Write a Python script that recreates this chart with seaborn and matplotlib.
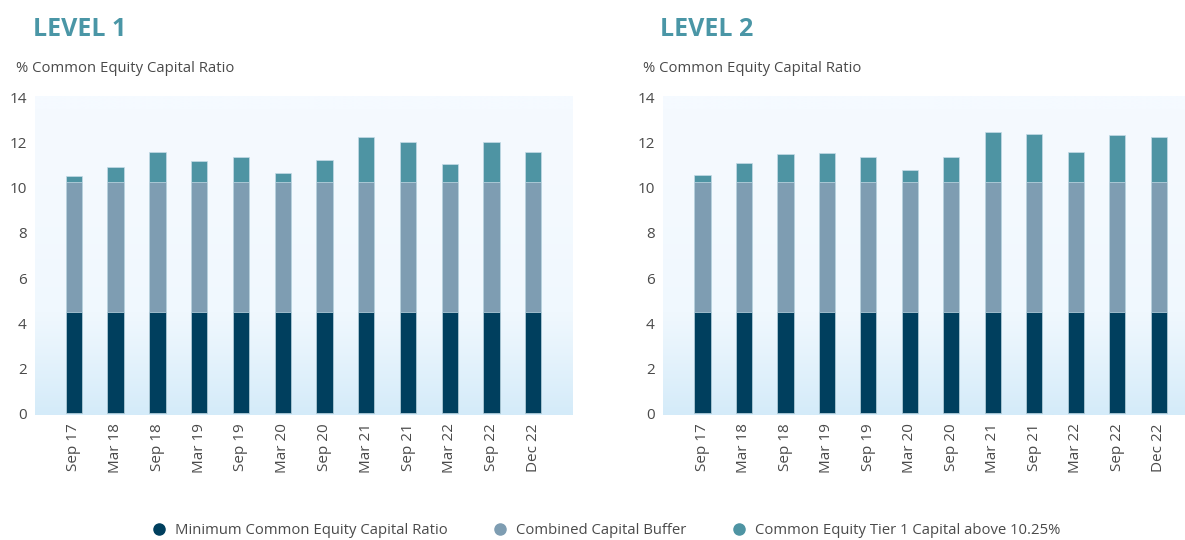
import numpy as np
import pandas as pd
import matplotlib
matplotlib.use("Agg")
import matplotlib.pyplot as plt
import seaborn as sns
from matplotlib.colors import LinearSegmentedColormap
from matplotlib.lines import Line2D

periods = ["Sep 17", "Mar 18", "Sep 18", "Mar 19", "Sep 19", "Mar 20",
           "Sep 20", "Mar 21", "Sep 21", "Mar 22", "Sep 22", "Dec 22"]
minimum_ratio = [4.5] * 12
combined_buffer_top = [10.25] * 12
level1_total = [10.52, 10.93, 11.61, 11.21, 11.36, 10.67, 11.24, 12.27, 12.04, 11.08, 12.04, 11.60]
level2_total = [10.59, 11.10, 11.50, 11.54, 11.39, 10.80, 11.38, 12.49, 12.40, 11.59, 12.34, 12.25]

titles = ["LEVEL 1", "LEVEL 2"]
ylabel_text = "% Common Equity Capital Ratio"
legend_labels = ["Minimum Common Equity Capital Ratio", "Combined Capital Buffer",
                 "Common Equity Tier 1 Capital above 10.25%"]

C_NAVY = "#003f5e"
C_GREY = "#7e9db2"
C_TEAL = "#4e94a3"
C_TITLE = "#4a96a6"
C_TEXT = "#4a4a4a"

sns.set_theme(style="white")
plt.rcParams["font.family"] = ["Open Sans", "DejaVu Sans"]

W, H = 1185, 540
fig = plt.figure(figsize=(W / 100, H / 100), dpi=100)

def ax_rect(x0, y0, x1, y1):
    return [x0 / W, 1 - y1 / H, (x1 - x0) / W, (y1 - y0) / H]

panels = [
    dict(rect=ax_rect(35, 96, 573, 415), totals=level1_total, xlim=(-0.93, 11.95),
         title_x=33, sub_x=16),
    dict(rect=ax_rect(663, 96, 1185, 415), totals=level2_total, xlim=(-0.95, 11.63),
         title_x=660, sub_x=643),
]

grad_cmap = LinearSegmentedColormap.from_list("bg", ["#f5faff", "#f0f8fe", "#d4ebf9"])

for p, title in zip(panels, titles):
    ax = fig.add_axes(p["rect"])
    ylim = (-0.08, 14.08)
    grad = np.linspace(0, 1, 256).reshape(-1, 1) ** 1.8
    ax.imshow(grad, aspect="auto", cmap=grad_cmap,
              extent=(p["xlim"][0], p["xlim"][1], ylim[0], ylim[1]),
              origin="upper", zorder=0)
    df = pd.DataFrame({"period": periods, "total": p["totals"],
                       "buffer": combined_buffer_top, "minimum": minimum_ratio})
    for col, color in [("total", C_TEAL), ("buffer", C_GREY), ("minimum", C_NAVY)]:
        sns.barplot(data=df, x="period", y=col, color=color, width=0.39,
                    saturation=1, ax=ax, edgecolor="#c4dbe6", linewidth=0.5, zorder=2)
    ax.set_xlim(*p["xlim"])
    ax.set_ylim(*ylim)
    ax.set_yticks(range(0, 15, 2))
    ax.set_xlabel("")
    ax.set_ylabel("")
    for s in ax.spines.values():
        s.set_visible(False)
    ax.tick_params(axis="x", rotation=90, labelsize=11, colors=C_TEXT, length=0, pad=6)
    ax.tick_params(axis="y", labelsize=11, colors=C_TEXT, length=0, pad=6)
    for lab in ax.get_yticklabels():
        lab.set_horizontalalignment("right")
    ax.grid(False)

    fig.text(p["title_x"] / W, 1 - 29 / H, title, fontsize=18, fontweight="bold",
             color=C_TITLE, va="center", ha="left")
    fig.text(p["sub_x"] / W, 1 - 68 / H, ylabel_text, fontsize=10.7, color=C_TEXT,
             va="center", ha="left")

handles = [Line2D([0], [0], marker="o", linestyle="", markersize=8,
                  markerfacecolor=c, markeredgecolor=c) for c in (C_NAVY, C_GREY, C_TEAL)]
fig.legend(handles, legend_labels, loc="center", bbox_to_anchor=(605 / W, 1 - 531 / H),
           ncol=3, frameon=False, fontsize=10.7, labelcolor=C_TEXT,
           handlelength=1.2, handletextpad=0.5, columnspacing=2.9)

fig.savefig("out.png", dpi=100)
